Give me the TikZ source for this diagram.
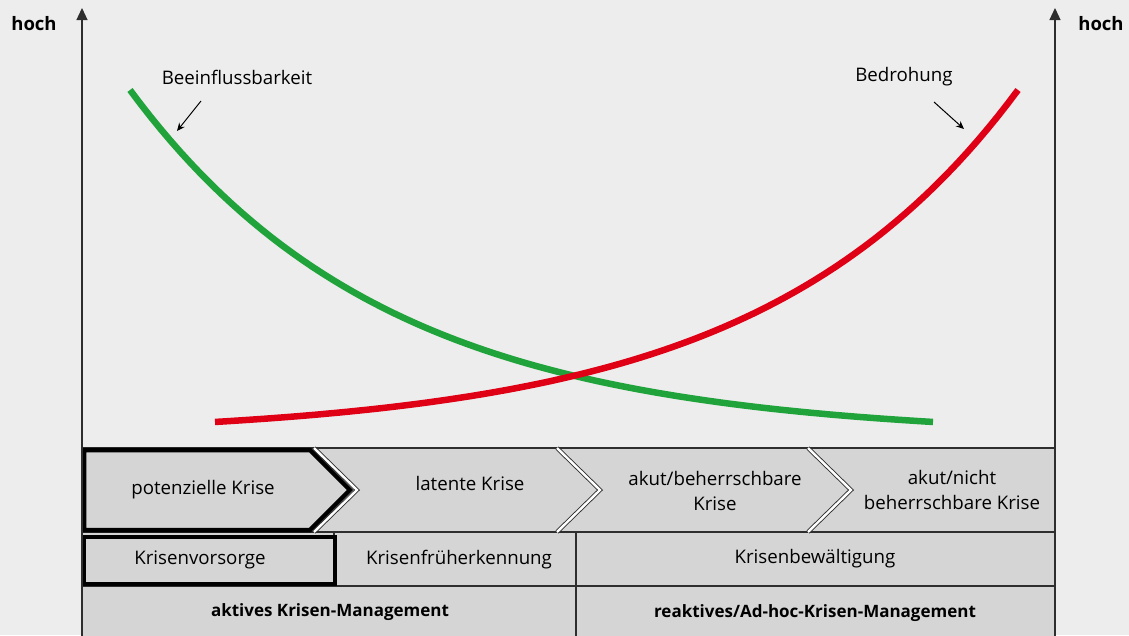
\documentclass[tikz,border=0pt]{standalone}
\usepackage{fontspec}
\setmainfont{Open Sans}
\usetikzlibrary{arrows.meta,positioning}
\definecolor{bggray}{HTML}{EDEDED}
\definecolor{cellgray}{HTML}{D5D5D5}
\definecolor{linegray}{HTML}{2E2E2E}
\definecolor{curvegreen}{HTML}{1FA33A}
\definecolor{curvered}{HTML}{DF0016}

\begin{document}
\begin{tikzpicture}[x=1pt,y=-1pt,>=Stealth,font=\fontsize{18.7}{25}\selectfont]
      \tikzstyle{cell}=[draw=linegray,fill=cellgray,line width=1.2pt]
      \tikzstyle{focus}=[draw=black,line width=4.5pt,line join=miter]
      \tikzstyle{divider}=[draw=linegray,double=white,line width=0.9pt,double distance=2.4pt]
      \tikzstyle{axis}=[draw=linegray,line width=1.2pt,-{Triangle[length=12pt,width=11pt]}]
      \tikzstyle{curve}=[line width=6.5pt]
      \tikzstyle{txt}=[align=center,inner sep=0pt]
      \tikzstyle{strong}=[txt,font=\fontsize{17}{20}\selectfont\bfseries]
      \tikzstyle{pointer}=[->,line width=1pt,>={Stealth[length=8pt,width=7pt]}]

      \fill[bggray] (0,0) rectangle (1129,635);
      \useasboundingbox (0,0) rectangle (1129,635);

      % table rows
      \draw[cell] (82,448) rectangle (1055,532);
      \draw[cell] (82,532) rectangle (334,586);
      \draw[cell] (334,532) rectangle (576,586);
      \draw[cell] (576,532) rectangle (1055,586);
      \draw[cell] (82,586) rectangle (576,640);
      \draw[cell] (576,586) rectangle (1055,640);

      % chevrons
      \draw[divider] (314,448)--(357,490)--(314,532);
      \draw[divider] (557,448)--(600,490)--(557,532);
      \draw[divider] (808,448)--(851,490)--(808,532);
      \draw[focus] (84,450)--(310,450)--(350,490)--(310,530)--(84,530)--cycle;
      \draw[focus] (84,537) rectangle (335,584);

      \node[txt] (pot) at (203,490) {potenzielle Krise};
      \node[txt] (lat) at (470,483) {latente Krise};
      \node[txt] (akb) at (715,491) {akut/beherrschbare\\Krise};
      \node[txt] (akn) at (952,490) {akut/nicht\\beherrschbare Krise};

      \node[txt] (vor) at (200,560) {Krisenvorsorge};
      \node[txt] (frueh) at (459,560) {Krisenfrüherkennung};
      \node[txt] (bew) at (815,559) {Krisenbewältigung};

      \node[strong] (aktiv) at (330,612) {aktives Krisen-Management};
      \node[strong] (reaktiv) at (815,613) {reaktives/Ad-hoc-Krisen-Management};

      % axes
      \coordinate (lbot) at (82,640);
      \coordinate (ltop) at (82,8);
      \coordinate (rbot) at (1055,640);
      \coordinate (rtop) at (1055,8);
      \draw[axis] (lbot)--(ltop);
      \draw[axis] (rbot)--(rtop);
      \node[txt,font=\fontsize{18.5}{20}\selectfont\bfseries] (hochl) at (34,24) {hoch};
      \node[txt,font=\fontsize{18.5}{20}\selectfont\bfseries] (hochr) at (1101,24) {hoch};

      % curves
      \draw[curve,curvegreen] plot[domain=130:933,samples=80] (\x,{90+347*(1-exp(-0.0039*(\x-130)))});
      \draw[curve,curvered] plot[domain=215:1018,samples=80] (\x,{90+347*(1-exp(-0.0039*(1018-\x)))});

      \node[txt] (beein) at (237,77) {Beeinflussbarkeit};
      \node[txt] (bedr) at (904,77) {Bedrohung};
      \coordinate (gfrom) at (201,101);
      \coordinate (gpt) at (177,131);
      \coordinate (rfrom) at (934,102);
      \coordinate (rpt) at (964,129);
      \draw[pointer] (gfrom)--(gpt);
      \draw[pointer] (rfrom)--(rpt);
    \end{tikzpicture}
\end{document}
